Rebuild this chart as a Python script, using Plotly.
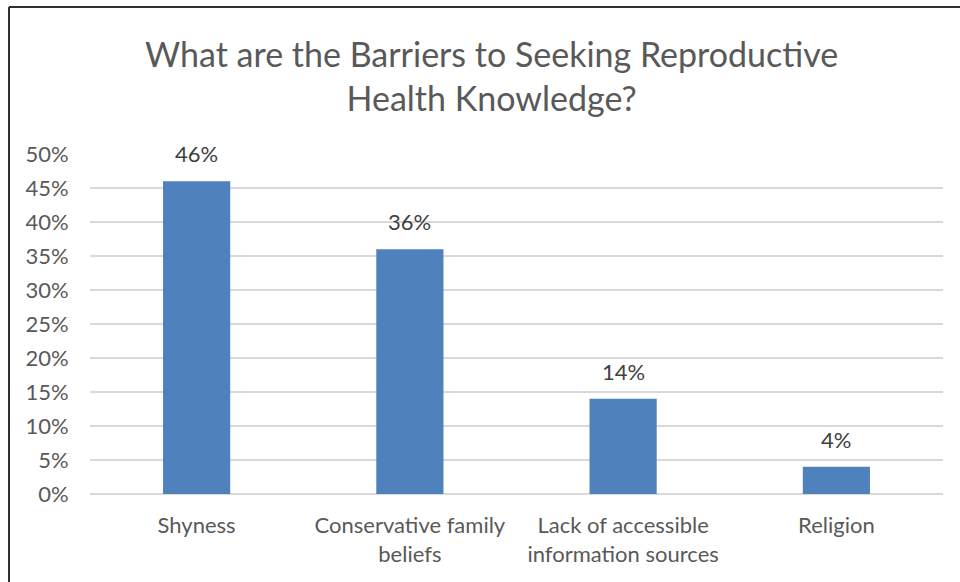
import plotly.graph_objects as go

categories = ["Shyness", "Conservative family beliefs", "Lack of accessible information sources", "Religion"]
tick_labels = ["Shyness", "Conservative family<br>beliefs", "Lack of accessible<br>information sources", "Religion"]
values = [0.46, 0.36, 0.14, 0.04]
value_labels = ["46%", "36%", "14%", "4%"]
y_ticks = [i * 0.05 for i in range(11)]
y_tick_labels = [f"{i*5}%" for i in range(11)]

FONT = "Lato"
fig = go.Figure()
fig.add_trace(go.Bar(
    x=categories, y=values,
    marker=dict(color="#4F81BD", line=dict(width=0)),
    width=0.315,
    hoverinfo="skip",
))

for c, v, t in zip(categories, values, value_labels):
    fig.add_annotation(x=c, y=v, text=t, showarrow=False, yanchor="bottom",
                       yshift=12, font=dict(family=FONT, size=22, color="#404040"))

fig.add_annotation(xref="paper", yref="paper", x=(491 - 90) / 853, y=1.0, yshift=34,
                   text="What are the Barriers to Seeking Reproductive<br>Health Knowledge?",
                   showarrow=False, yanchor="bottom", xanchor="center",
                   font=dict(family=FONT, size=34, color="#595959"))

# frame lines (left and top)
fig.add_shape(type="line", xref="paper", yref="paper", x0=-81/853, x1=-81/853,
              y0=(494-7)/340, y1=-0.3, line=dict(color="#303030", width=2), layer="above")
fig.add_shape(type="line", xref="paper", yref="paper", x0=-81/853, x1=1.03,
              y0=(494-7)/340, y1=(494-7)/340, line=dict(color="#303030", width=2), layer="above")

fig.update_layout(
    width=960, height=582,
    margin=dict(l=90, r=17, t=154, b=88),
    paper_bgcolor="white", plot_bgcolor="white",
    showlegend=False,
    font=dict(family=FONT, color="#595959"),
    xaxis=dict(
        tickmode="array", tickvals=categories, ticktext=tick_labels,
        tickfont=dict(family=FONT, size=22, color="#595959"),
        showgrid=False, showline=False, zeroline=False,
        ticks="outside", ticklen=12, tickcolor="rgba(0,0,0,0)",
    ),
    yaxis=dict(
        range=[0, 0.5], tickmode="array", tickvals=y_ticks, ticktext=y_tick_labels,
        tickfont=dict(family=FONT, size=22, color="#595959"),
        showgrid=True, gridcolor="#d9d9d9", gridwidth=1.5,
        zeroline=True, zerolinecolor="#d9d9d9", zerolinewidth=1.5,
        showline=False, ticks="outside", ticklen=16, tickcolor="rgba(0,0,0,0)",
    ),
)

fig.write_html("out.html")
